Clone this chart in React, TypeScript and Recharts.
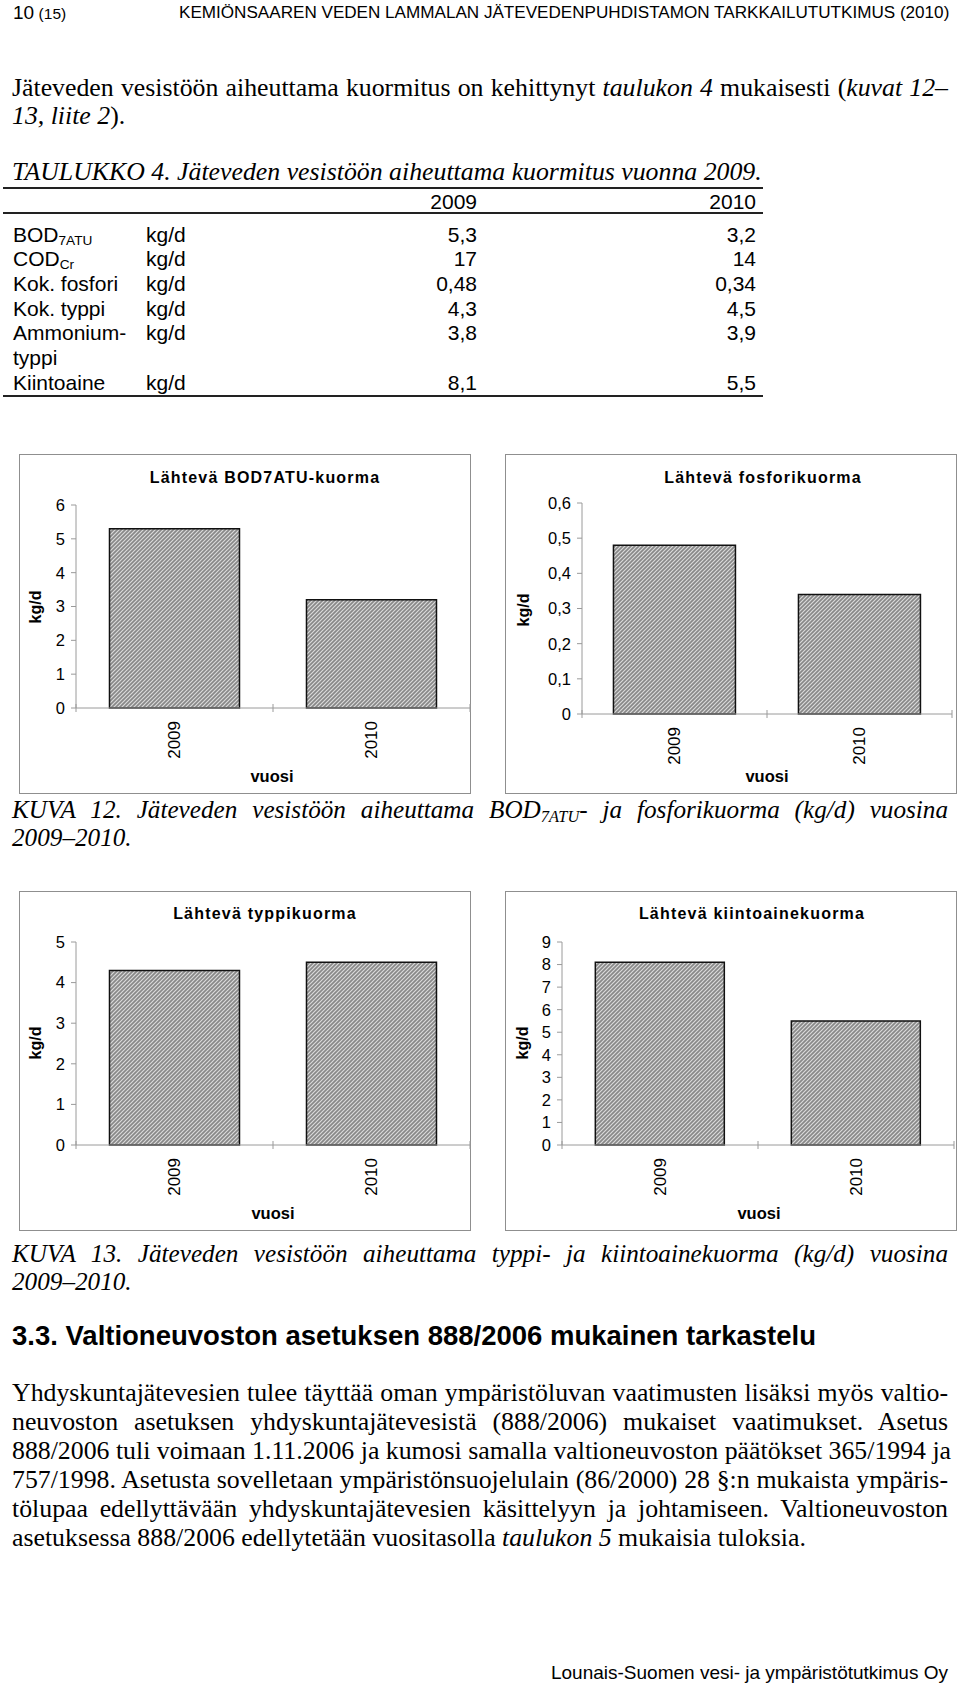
import React from "react";
import { BarChart, Bar, XAxis, YAxis } from "recharts";

const SANS = "'Liberation Sans', Arial, sans-serif";
const SERIF = "'Liberation Serif', 'Times New Roman', serif";
const AXIS = "#9a9a9a";

// chart data
const years = ["2009", "2010"];
const bodLoad = [5.3, 3.2];
const phosLoad = [0.48, 0.34];
const nitroLoad = [4.3, 4.5];
const solidsLoad = [8.1, 5.5];

const bodTicks = [0, 1, 2, 3, 4, 5, 6];
const phosTicks = [0, 0.1, 0.2, 0.3, 0.4, 0.5, 0.6];
const nitroTicks = [0, 1, 2, 3, 4, 5];
const solidsTicks = [0, 1, 2, 3, 4, 5, 6, 7, 8, 9];

// table 4
const tableParams = ["BOD", "COD", "Kok. fosfori", "Kok. typpi", "Ammonium-\ntyppi", "Kiintoaine"];
const tableSubs = ["7ATU", "Cr", "", "", "", ""];
const table2009 = ["5,3", "17", "0,48", "4,3", "3,8", "8,1"];
const table2010 = ["3,2", "14", "0,34", "4,5", "3,9", "5,5"];

const commaFmt = (v: number) => String(v).replace(".", ",");

const YearTick = (props: any) => {
  const { x, y, payload, index, half, count } = props;
  const ty = y + 13;
  return (
    <g>
      <line x1={x - half} x2={x - half} y1={y - 4} y2={y + 4} stroke={AXIS} />
      {index === count - 1 && <line x1={x + half} x2={x + half} y1={y - 4} y2={y + 4} stroke={AXIS} />}
      <text
        x={x}
        y={ty}
        transform={`rotate(-90, ${x}, ${ty})`}
        textAnchor="end"
        dominantBaseline="central"
        fontFamily={SANS}
        fontSize={17}
        fill="#000"
      >
        {payload.value}
      </text>
    </g>
  );
};

interface LoadChartProps {
  id: string;
  left: number;
  top: number;
  title: string;
  values: number[];
  ticks: number[];
  margin: { top: number; right: number; bottom: number; left: number };
  titlePos: [number, number];
  unitPos: [number, number];
  yearPos: [number, number];
}

const W = 452;
const H = 340;
const YW = 40;

const LoadChart = ({ id, left, top, title, values, ticks, margin, titlePos, unitPos, yearPos }: LoadChartProps) => {
  const data = years.map((y, i) => ({ year: y, value: values[i] }));
  const half = (W - margin.left - YW - margin.right) / years.length / 2;
  return (
    <div style={{ position: "absolute", left, top, width: W, height: H, boxSizing: "border-box", border: "1px solid #8f8f8f" }}>
      <div style={{ position: "absolute", left: -1, top: -1 }}>
        <BarChart width={W} height={H} data={data} margin={margin} barCategoryGap="17%">
          <defs>
            <pattern id={id} patternUnits="userSpaceOnUse" width={4} height={4}>
              <rect width={4} height={4} fill="#888" />
              <path d="M-1,1 l2,-2 M0,4 l4,-4 M3,5 l2,-2" stroke="#dadada" strokeWidth={1.2} />
            </pattern>
          </defs>
          <XAxis
            dataKey="year"
            height={30}
            axisLine={{ stroke: AXIS }}
            tickLine={false}
            tickSize={0}
            tickMargin={0}
            interval={0}
            tick={<YearTick half={half} count={years.length} />}
          />
          <YAxis
            type="number"
            width={YW}
            domain={[0, ticks[ticks.length - 1]]}
            ticks={ticks}
            interval={0}
            tickFormatter={commaFmt}
            axisLine={{ stroke: AXIS }}
            tickLine={{ stroke: AXIS }}
            tickSize={5}
            tickMargin={6}
            tick={{ fontSize: 16.5, fill: "#000", fontFamily: SANS }}
          />
          <Bar dataKey="value" fill={`url(#${id})`} stroke="#111" strokeWidth={1.5} isAnimationActive={false} />
          <text x={titlePos[0]} y={titlePos[1]} textAnchor="middle" dominantBaseline="central" fontFamily={SANS} fontWeight="bold" fontSize={16} letterSpacing={1.2}>
            {title}
          </text>
          <text
            x={unitPos[0]}
            y={unitPos[1]}
            transform={`rotate(-90, ${unitPos[0]}, ${unitPos[1]})`}
            textAnchor="middle"
            dominantBaseline="central"
            fontFamily={SANS}
            fontWeight="bold"
            fontSize={16}
          >
            kg/d
          </text>
          <text x={yearPos[0]} y={yearPos[1]} textAnchor="middle" dominantBaseline="central" fontFamily={SANS} fontWeight="bold" fontSize={16.5}>
            vuosi
          </text>
        </BarChart>
      </div>
    </div>
  );
};

const TextLine = ({ y, children, justify, size = 25.8, italic, family = SERIF, left = 12, width = 936, lh = 28 }: any) => (
  <div
    style={{
      position: "absolute",
      left,
      top: y - lh / 2,
      width,
      height: lh,
      lineHeight: `${lh}px`,
      fontFamily: family,
      fontSize: size,
      fontStyle: italic ? "italic" : "normal",
      whiteSpace: "nowrap",
      textAlign: justify ? "justify" : "left",
      textAlignLast: justify ? "justify" : "auto",
    }}
  >
    {children}
  </div>
);

const Sub = ({ children }: any) => (
  <span style={{ fontSize: "0.65em", verticalAlign: "-0.25em", lineHeight: 0 }}>{children}</span>
);

const Rule = ({ y }: { y: number }) => (
  <div style={{ position: "absolute", left: 3, top: y, width: 760, height: 2, background: "#222" }} />
);

export default function App() {
  let lineIdx = 0;
  const rowPitch = 24.7;
  return (
    <div style={{ position: "absolute", left: 0, top: 0, width: 960, height: 1689, background: "#fff", color: "#000", overflow: "hidden" }}>
      {/* page header */}
      <div style={{ position: "absolute", left: 13, top: 3, lineHeight: "20px", fontFamily: SANS }}>
        <span style={{ fontSize: 19 }}>10</span> <span style={{ fontSize: 15.5 }}>(15)</span>
      </div>
      <div style={{ position: "absolute", left: 179, top: 3, lineHeight: "20px", fontFamily: SANS, fontSize: 17.1, whiteSpace: "nowrap" }}>
        KEMIÖNSAAREN VEDEN LAMMALAN JÄTEVEDENPUHDISTAMON TARKKAILUTUTKIMUS (2010)
      </div>

      <TextLine y={88} justify>
        Jäteveden vesistöön aiheuttama kuormitus on kehittynyt <i>taulukon 4</i> mukaisesti (<i>kuvat 12–</i>
      </TextLine>
      <TextLine y={116}>
        <i>13, liite 2</i>).
      </TextLine>

      <TextLine y={172} italic>
        TAULUKKO 4. Jäteveden vesistöön aiheuttama kuormitus vuonna 2009.
      </TextLine>

      {/* table */}
      <Rule y={187} />
      <div style={{ position: "absolute", left: 377, width: 100, top: 190, lineHeight: "24px", textAlign: "right", fontFamily: SANS, fontSize: 21 }}>2009</div>
      <div style={{ position: "absolute", left: 656, width: 100, top: 190, lineHeight: "24px", textAlign: "right", fontFamily: SANS, fontSize: 21 }}>2010</div>
      <Rule y={212} />
      {tableParams.map((p, i) => {
        const top = 235 - rowPitch / 2 + lineIdx * rowPitch;
        lineIdx += p.includes("\n") ? 2 : 1;
        const cell = { position: "absolute" as const, top, lineHeight: `${rowPitch}px`, fontFamily: SANS, fontSize: 21 };
        return (
          <React.Fragment key={p}>
            <div style={{ ...cell, left: 13, whiteSpace: "pre-line" }}>
              {p}
              {tableSubs[i] && <Sub>{tableSubs[i]}</Sub>}
            </div>
            <div style={{ ...cell, left: 146 }}>kg/d</div>
            <div style={{ ...cell, left: 377, width: 100, textAlign: "right" }}>{table2009[i]}</div>
            <div style={{ ...cell, left: 656, width: 100, textAlign: "right" }}>{table2010[i]}</div>
          </React.Fragment>
        );
      })}
      <Rule y={395} />

      <LoadChart
        id="hatch1"
        left={19}
        top={454}
        title="Lähtevä BOD7ATU-kuorma"
        values={bodLoad}
        ticks={bodTicks}
        margin={{ top: 51, right: 1, bottom: 56, left: 17 }}
        titlePos={[246, 23]}
        unitPos={[16, 153]}
        yearPos={[253, 322]}
      />
      <LoadChart
        id="hatch2"
        left={505}
        top={454}
        title="Lähtevä fosforikuorma"
        values={phosLoad}
        ticks={phosTicks}
        margin={{ top: 49, right: 5, bottom: 50, left: 37 }}
        titlePos={[258, 23]}
        unitPos={[18, 156]}
        yearPos={[262, 322]}
      />

      <TextLine y={810} italic justify size={25.2}>
        KUVA 12. Jäteveden vesistöön aiheuttama BOD<Sub>7ATU</Sub>- ja fosforikuorma (kg/d) vuosina
      </TextLine>
      <TextLine y={838} italic size={25.2}>
        2009–2010.
      </TextLine>

      <LoadChart
        id="hatch3"
        left={19}
        top={891}
        title="Lähtevä typpikuorma"
        values={nitroLoad}
        ticks={nitroTicks}
        margin={{ top: 51, right: 1, bottom: 56, left: 17 }}
        titlePos={[246, 22]}
        unitPos={[16, 152]}
        yearPos={[254, 322]}
      />
      <LoadChart
        id="hatch4"
        left={505}
        top={891}
        title="Lähtevä kiintoainekuorma"
        values={solidsLoad}
        ticks={solidsTicks}
        margin={{ top: 51, right: 3, bottom: 56, left: 17 }}
        titlePos={[247, 22]}
        unitPos={[17, 152]}
        yearPos={[254, 322]}
      />

      <TextLine y={1254} italic justify size={25.2}>
        KUVA 13. Jäteveden vesistöön aiheuttama typpi- ja kiintoainekuorma (kg/d) vuosina
      </TextLine>
      <TextLine y={1282} italic size={25.2}>
        2009–2010.
      </TextLine>

      <div style={{ position: "absolute", left: 12, top: 1320, lineHeight: "32px", fontFamily: SANS, fontWeight: "bold", fontSize: 27.5, whiteSpace: "nowrap" }}>
        3.3. Valtioneuvoston asetuksen 888/2006 mukainen tarkastelu
      </div>

      <TextLine y={1393} justify>Yhdyskuntajätevesien tulee täyttää oman ympäristöluvan vaatimusten lisäksi myös valtio-</TextLine>
      <TextLine y={1422} justify>neuvoston asetuksen yhdyskuntajätevesistä (888/2006) mukaiset vaatimukset. Asetus</TextLine>
      <TextLine y={1451} justify>888/2006 tuli voimaan 1.11.2006 ja kumosi samalla valtioneuvoston päätökset 365/1994 ja</TextLine>
      <TextLine y={1480} justify>757/1998. Asetusta sovelletaan ympäristönsuojelulain (86/2000) 28 §:n mukaista ympäris-</TextLine>
      <TextLine y={1509} justify>tölupaa edellyttävään yhdyskuntajätevesien käsittelyyn ja johtamiseen. Valtioneuvoston</TextLine>
      <TextLine y={1538}>
        asetuksessa 888/2006 edellytetään vuositasolla <i>taulukon 5</i> mukaisia tuloksia.
      </TextLine>

      <div style={{ position: "absolute", right: 12, top: 1662, lineHeight: "22px", fontFamily: SANS, fontSize: 19, whiteSpace: "nowrap" }}>
        Lounais-Suomen vesi- ja ympäristötutkimus Oy
      </div>
    </div>
  );
}
